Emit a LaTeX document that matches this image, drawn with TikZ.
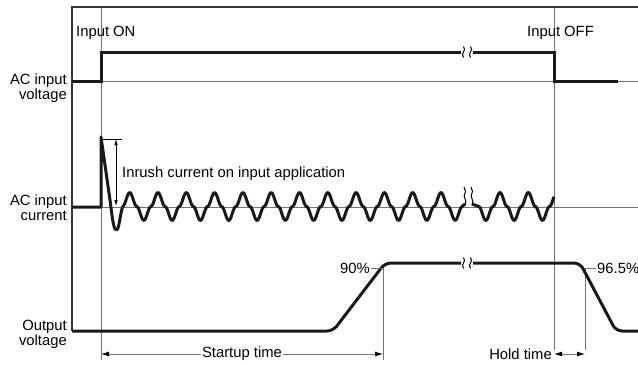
\documentclass[tikz,border=0pt]{standalone}
\usepackage{fontspec}
\setmainfont{Liberation Sans}
\usetikzlibrary{arrows.meta}

\begin{document}
\begin{tikzpicture}[x=1pt, y=-1pt, font=\fontsize{14.8}{15.5}\selectfont,
    >={Latex[length=8pt,width=5pt,color=black]},
    trace/.style={line width=3pt, black!90},
    guide/.style={line width=0.8pt, black!55},
    frame/.style={line width=1.3pt, black!80},
    brk/.style={line width=1pt, black},
    lbl/.style={inner sep=0pt, align=right, anchor=east},
    txt/.style={inner sep=0pt, text=black},
    declare function={acw(\t)=cos(\t)*abs(cos(\t));}]
  \useasboundingbox (0,0) rectangle (638,365);

  % time marks
  \coordinate (on top) at (101,7);
  \coordinate (on bot) at (101,360);
  \coordinate (off top) at (554,7);
  \coordinate (off bot) at (554,350);
  \coordinate (p90 top) at (383,268);
  \coordinate (p90 bot) at (383,360);
  \coordinate (p965 top) at (585,268);
  \coordinate (p965 bot) at (585,350);
  \draw[guide] (on top) -- (on bot);
  \draw[guide] (off top) -- (off bot);
  \draw[guide] (p90 top) -- (p90 bot);
  \draw[guide] (p965 top) -- (p965 bot);

  % zero lines
  \draw[guide] (72,81) -- (638,81);
  \draw[guide] (72,207) -- (638,207);

  % frame
  \draw[frame] (638,7) -- (72,7) -- (72,331);

  % labels on the left
  \node[lbl] (vin) at (67,88) {AC input\\voltage};
  \node[lbl] (iin) at (67,207.5) {AC input\\current};
  \node[lbl] (vout) at (67,334.5) {Output\\voltage};

  \node[txt, anchor=west] (on) at (76,33) {Input ON};
  \node[txt, anchor=west] (off) at (527,33) {Input OFF};

  % AC input voltage
  \draw[trace] (72,81) -- (101,81) -- (101,52) -- (461,52);
  \draw[trace] (473,52) -- (554,52) -- (554,81) -- (618,81);
  \draw[brk] (463.5,57.5) .. controls (460,53) and (467,51) .. (463.5,46.5);
  \draw[brk] (470.5,57.5) .. controls (467,53) and (474,51) .. (470.5,46.5);

  % AC input current
  \draw[trace, line join=round] (72,207) -- (101,207) -- (101,137) -- (110,200)
    .. controls (113,224) and (114,230) .. (116.5,230)
    .. controls (119,230) and (120,215) .. (122.6,206.5)
    -- plot[domain=122.6:462, samples=300] (\x, {206.5-14*acw(12.7208*(\x-158))})
    -- (465,204);
  \draw[trace, line join=round] (472,204) -- (478.8,206.5)
    -- plot[domain=478.8:554, samples=80] (\x, {206.5-14*acw(12.7208*(\x-500))});
  \draw[brk] (465,205) .. controls (468,200) and (462,197) .. (465,193)
    .. controls (467,190) and (463,189) .. (464,187);
  \draw[brk] (472,205) .. controls (475,200) and (469,197) .. (472,193)
    .. controls (474,190) and (470,189) .. (471,187);

  % inrush
  \coordinate (peak) at (101,139);
  \coordinate (peak r) at (122,139);
  \coordinate (ir top) at (116,139);
  \coordinate (ir bot) at (116,206);
  \draw[line width=0.7pt] (peak) -- (peak r);
  \draw[line width=0.7pt, {Latex[length=6pt,width=3.5pt]}-{Latex[length=6pt,width=3.5pt]}] (ir top) -- (ir bot);
  \node[txt, anchor=west] (inrush) at (122,174) {Inrush current on input application};

  % output voltage
  \draw[trace, rounded corners=6pt] (72,331) -- (333,331) -- (385,263) -- (461,263);
  \draw[trace, rounded corners=6pt] (473,263) -- (580,263) -- (616,331) -- (638,331);
  \draw[brk] (463.5,268.5) .. controls (460,264) and (467,262) .. (463.5,257.5);
  \draw[brk] (470.5,268.5) .. controls (467,264) and (474,262) .. (470.5,257.5);

  \node[txt, anchor=east] (p90) at (370,268) {90\%};
  \node[txt, anchor=west] (p965) at (597,268) {96.5\%};
  \draw[guide] (p90.east) ++(1,0) -- (p90 top);
  \draw[guide] (p965 top) -- ([xshift=-1pt]p965.west);

  % times
  \coordinate (st l) at (101,354);
  \coordinate (st r) at (383,354);
  \draw[guide, <->] (st l) -- (st r) node[midway, fill=white, inner sep=1pt, text=black] (startup) {Startup time};
  \coordinate (ht l) at (554,354);
  \coordinate (ht r) at (585,354);
  \draw[guide, <->] (ht l) -- (ht r);
  \node[txt, anchor=east] (hold) at (552,354) {Hold time};
\end{tikzpicture}
\end{document}
